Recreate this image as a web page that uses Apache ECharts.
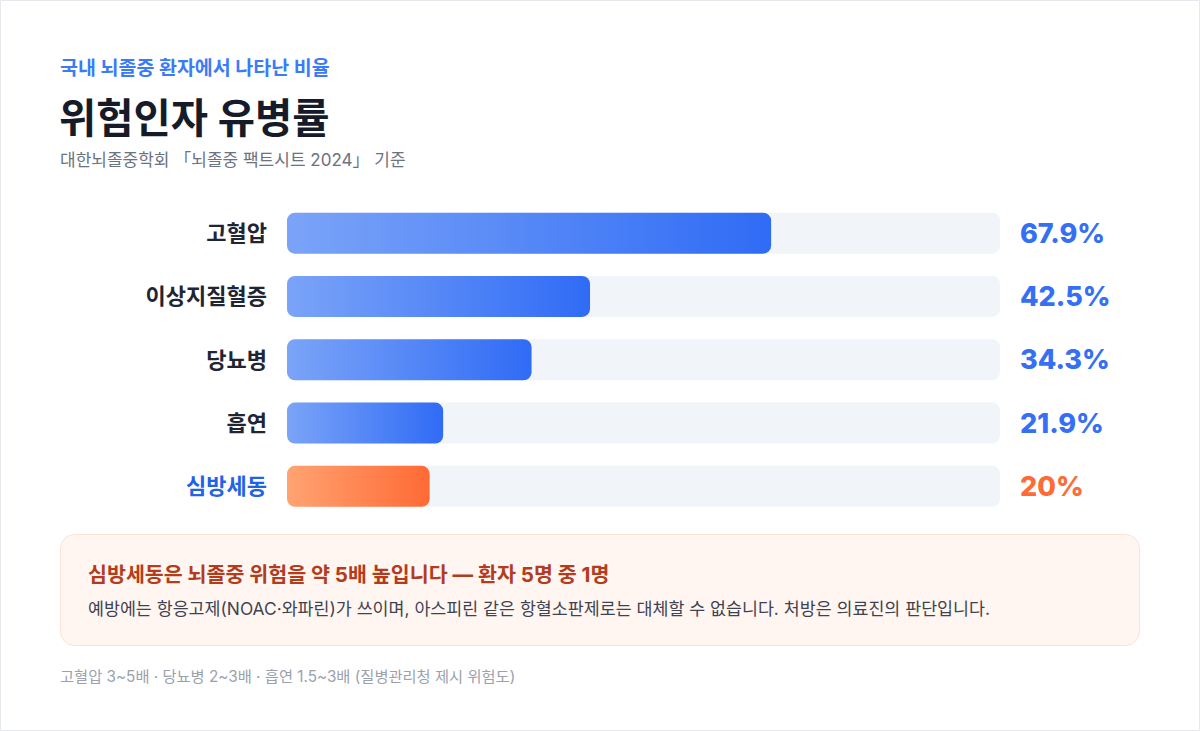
<!DOCTYPE html>
<html><head><meta charset="utf-8">
<script src="https://cdn.jsdelivr.net/npm/echarts@6/dist/echarts.min.js"></script>
<style>html,body{margin:0;padding:0;background:#fff}#c{width:1200px;height:731px}</style>
</head><body><div id="c"></div>
<script>
const categories = ['고혈압', '이상지질혈증', '당뇨병', '흡연', '심방세동'];
const values = [67.9, 42.5, 34.3, 21.9, 20];
const highlight = ['심방세동'];
const axisMax = 100;
const valueLabels = ['67.9%', '42.5%', '34.3%', '21.9%', '20%'];

const FONT = 'Inter, "Noto Sans CJK KR", sans-serif';
const BLUE_GRAD = {type:'linear', x:0, y:0, x2:1, y2:0, colorStops:[{offset:0,color:'#7ba4f8'},{offset:1,color:'#2f6bf5'}]};
const ORANGE_GRAD = {type:'linear', x:0, y:0, x2:1, y2:0, colorStops:[{offset:0,color:'#ffa372'},{offset:1,color:'#ff6a35'}]};

function txt(x, y, text, font, fill) {
  return {type:'text', x:x, y:y, style:{text:text, font:font, fill:fill, align:'left', verticalAlign:'middle'}};
}

const chart = echarts.init(document.getElementById('c'), null, {renderer:'svg'});
chart.setOption({
  animation:false,
  backgroundColor:'#ffffff',
  grid:{left:287, right:200, top:201.5, height:316.5, containLabel:false},
  xAxis:{type:'value', min:0, max:axisMax, show:false},
  yAxis:{type:'category', data:categories, inverse:true,
    axisLine:{show:false}, axisTick:{show:false}, splitLine:{show:false},
    axisLabel:{margin:20, fontFamily:FONT, fontSize:22, fontWeight:'bold', color:'#1f2533',
      formatter:v => highlight.includes(v) ? '{h|'+v+'}' : v,
      rich:{h:{fontFamily:FONT, fontSize:22, fontWeight:'bold', color:'#1f63e6'}}}
  },
  series:[
    {type:'bar', name:'track', barWidth:41, barGap:'-100%', silent:true, z:1,
      itemStyle:{color:'#f1f4f9', borderRadius:8},
      label:{show:true, position:'right', distance:20, fontFamily:FONT, fontSize:27, fontWeight:800,
        formatter:p => valueLabels[p.dataIndex]},
      data:categories.map(c=>({value:axisMax, label:{color: highlight.includes(c) ? '#ff6a35' : '#3570f4'}}))
    },
    {type:'bar', name:'value', barWidth:41, z:2,
      data:values.map((v,i)=>({value:v, itemStyle:{color: highlight.includes(categories[i]) ? ORANGE_GRAD : BLUE_GRAD, borderRadius:8}}))
    }
  ],
  graphic:[
    {type:'rect', shape:{x:0.5, y:0.5, width:1199, height:730}, style:{fill:'none', stroke:'#e6e8ee', lineWidth:1}, silent:true},
    txt(60, 68, '국내 뇌졸중 환자에서 나타난 비율', 'bold 19.5px '+FONT, '#3b7cf6'),
    txt(59, 118, '위험인자 유병률', 'bold 40.5px '+FONT, '#161b29'),
    txt(60, 160, '대한뇌졸중학회 「뇌졸중 팩트시트 2024」 기준', '17px '+FONT, '#6b7280'),
    {type:'rect', shape:{x:60.5, y:534.5, width:1079, height:111, r:14}, style:{fill:'#fff6f2', stroke:'#fde2d4', lineWidth:1}},
    txt(88, 574, '심방세동은 뇌졸중 위험을 약 5배 높입니다 — 환자 5명 중 1명', 'bold 20.6px '+FONT, '#b23c1c'),
    txt(88, 608, '예방에는 항응고제(NOAC·와파린)가 쓰이며, 아스피린 같은 항혈소판제로는 대체할 수 없습니다. 처방은 의료진의 판단입니다.', '17.35px '+FONT, '#3f4350'),
    txt(60, 676, '고혈압 3~5배 · 당뇨병 2~3배 · 흡연 1.5~3배 (질병관리청 제시 위험도)', '15.3px '+FONT, '#9aa1ad')
  ]
});
</script></body></html>
